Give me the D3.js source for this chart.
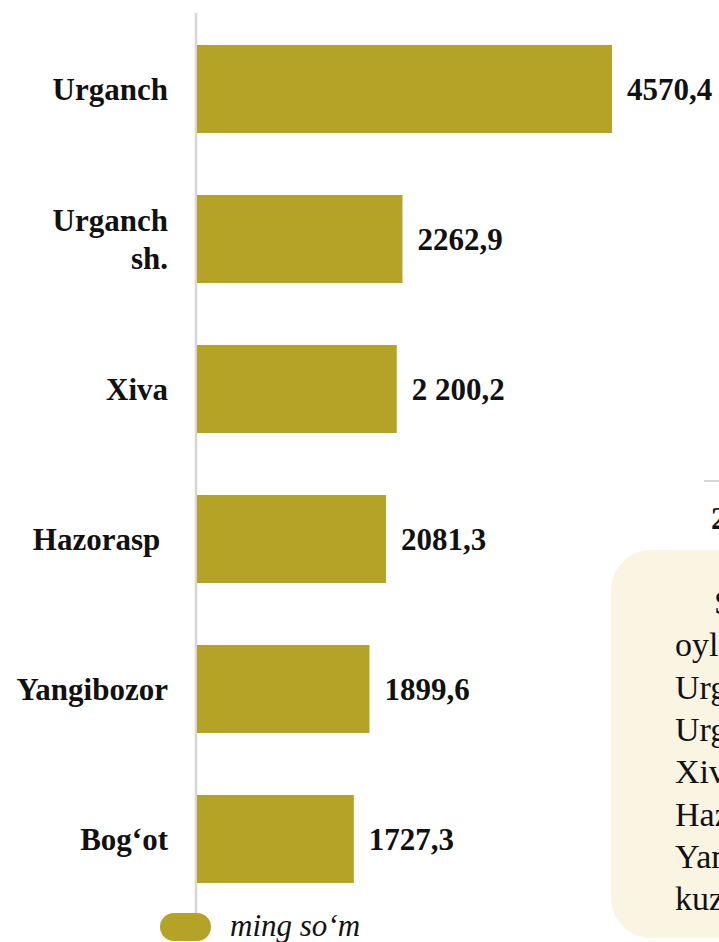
<!DOCTYPE html>
<html>
<head>
<meta charset="utf-8">
<script src="https://cdn.jsdelivr.net/npm/d3@7"></script>
<style>
  body { margin: 0; background: #fff; overflow: hidden; }
  svg { display: block; font-family: "Liberation Serif", "Times New Roman", serif; }
</style>
</head>
<body>
<div id="chart"></div>
<script>
// Districts and average values (ming so'm)
const districts = ['Urganch', 'Urganch sh.', 'Xiva', 'Hazorasp', 'Yangibozor', 'Bog‘ot'];
const values = [4570.4, 2262.9, 2200.2, 2081.3, 1899.6, 1727.3];
const valueLabels = ['4570,4', '2262,9', '2 200,2', '2081,3', '1899,6', '1727,3'];
const categoryLines = [['Urganch'], ['Urganch', 'sh.'], ['Xiva'], ['Hazorasp\u00a0'], ['Yangibozor'], ['Bog‘ot']];
const unitLabel = 'ming so‘m';

// text of the neighbouring note box, cut off by the right edge
const noteLines = ['Shu', 'oylik', 'Urganch', 'Urganch', 'Xiva', 'Hazorasp', 'Yangibozor', 'kuzatildi'];

const width = 719;
const height = 942;
const barColor = '#b5a328';

const svg = d3.select('#chart')
    .append('svg')
    .attr('width', width)
    .attr('height', height);

const x = d3.scaleLinear()
    .domain([0, d3.max(values)])
    .range([197, 612]);

const y = d3.scaleBand()
    .domain(districts)
    .range([14, 914])
    .paddingInner(0.4133)
    .paddingOuter(0.2067);

// vertical axis line
svg.append('line')
    .attr('x1', 196).attr('x2', 196)
    .attr('y1', y.range()[0] - 1).attr('y2', y.range()[1])
    .attr('stroke', '#d6d6d6')
    .attr('stroke-width', 2.5);

// bars
svg.selectAll('.bar')
    .data(districts)
    .join('rect')
    .attr('class', 'bar')
    .attr('x', x(0))
    .attr('y', d => y(d))
    .attr('width', (d, i) => x(values[i]) - x(0))
    .attr('height', y.bandwidth())
    .attr('fill', barColor);

// value labels
svg.selectAll('.value')
    .data(districts)
    .join('text')
    .attr('class', 'value')
    .attr('x', (d, i) => x(values[i]) + 15)
    .attr('y', d => y(d) + y.bandwidth() / 2)
    .attr('dy', '0.35em')
    .attr('font-size', 31)
    .attr('font-weight', 'bold')
    .attr('fill', '#111')
    .text((d, i) => valueLabels[i]);

// category labels (may be two lines)
const cats = svg.selectAll('.cat')
    .data(districts)
    .join('text')
    .attr('class', 'cat')
    .attr('text-anchor', 'end')
    .attr('font-size', 31)
    .attr('font-weight', 'bold')
    .attr('fill', '#111')
    .attr('xml:space', 'preserve');

cats.each(function(d, i) {
    const lines = categoryLines[i];
    const cy = y(d) + y.bandwidth() / 2;
    const lh = 38;
    d3.select(this).selectAll('tspan')
        .data(lines)
        .join('tspan')
        .attr('x', 168)
        .attr('y', (l, j) => cy + (j - (lines.length - 1) / 2) * lh)
        .attr('dy', '0.35em')
        .text(l => l);
});

// legend
svg.append('rect')
    .attr('x', 160).attr('y', 913)
    .attr('width', 51).attr('height', 28)
    .attr('rx', 14)
    .attr('fill', barColor);

svg.append('text')
    .attr('x', 230).attr('y', 936)
    .attr('font-size', 31)
    .attr('font-style', 'italic')
    .attr('fill', '#111')
    .text(unitLabel);

// pieces of the next chart / note on the right
svg.append('line')
    .attr('x1', 704).attr('x2', width)
    .attr('y1', 481).attr('y2', 481)
    .attr('stroke', '#d6d6d6')
    .attr('stroke-width', 2);

svg.append('text')
    .attr('x', 711).attr('y', 529)
    .attr('font-size', 31)
    .attr('font-weight', 'bold')
    .attr('fill', '#111')
    .text('2024');

svg.append('rect')
    .attr('x', 611).attr('y', 550)
    .attr('width', 200).attr('height', 388)
    .attr('rx', 40)
    .attr('fill', '#faf4e2');

svg.append('g')
    .selectAll('text')
    .data(noteLines)
    .join('text')
    .attr('x', (d, i) => i === 0 ? 714 : 675)
    .attr('y', (d, i) => 614 + i * 42.3)
    .attr('font-size', 34)
    .attr('fill', '#111')
    .text(d => d);
</script>
</body>
</html>
